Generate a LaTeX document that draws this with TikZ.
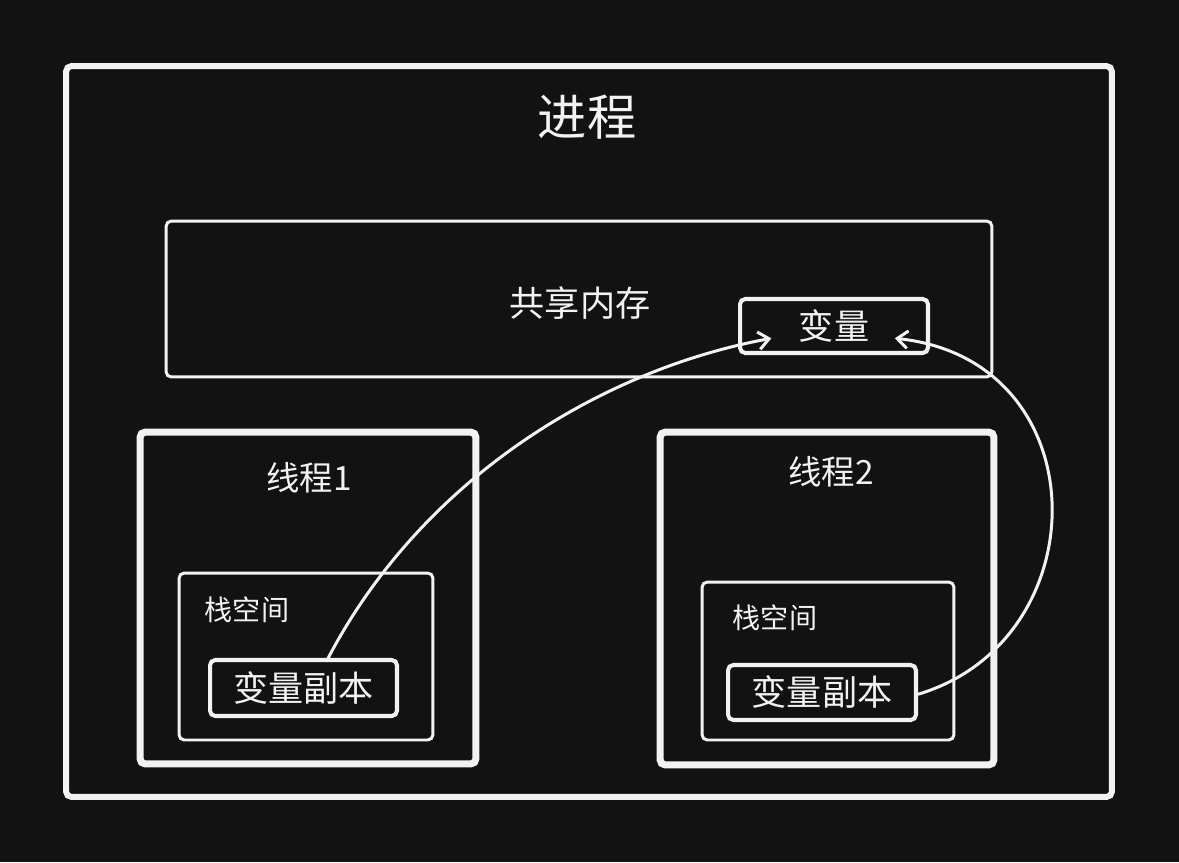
\documentclass[tikz,border=0pt]{standalone}
\usepackage{fontspec}
\setmainfont{Noto Sans CJK SC}
\usepackage{tikz}
\usetikzlibrary{arrows.meta}
\definecolor{bg}{HTML}{121212}
\definecolor{ink}{HTML}{F2F2F2}

\begin{document}
\begin{tikzpicture}[x=0.02cm, y=-0.02cm]
\tikzstyle{box}=[draw=ink, rectangle, rounded corners=3pt, inner sep=0pt]
\tikzstyle{label}=[text=ink, inner sep=0pt]
\tikzstyle{link}=[draw=ink, line width=1.7pt, -{Straight Barb[length=6pt, width=10pt, line width=1.7pt]}]
\fill[bg] (0,0) rectangle (1179,862);
\useasboundingbox (0,0) rectangle (1179,862);

% process
\node[box, line width=3.4pt, minimum width=20.92cm, minimum height=14.62cm] (proc) at (589,431.5) {};
\node[label, font=\fontsize{28}{30}\selectfont] (proct) at (587,117) {进程};

% shared memory
\node[box, line width=1.7pt, minimum width=16.52cm, minimum height=3.12cm] (shm) at (579,299) {};
\node[label, font=\fontsize{20}{22}\selectfont] (shmt) at (580,303) {共享内存};
\node[box, line width=2.3pt, minimum width=3.76cm, minimum height=1.08cm, text=ink, font=\fontsize{20}{22}\selectfont] (var) at (834,326) {变量};

% thread 1
\node[box, line width=4pt, minimum width=6.72cm, minimum height=6.64cm] (th1) at (308,598) {};
\node[label, font=\fontsize{19}{21}\selectfont] (th1t) at (309,478) {线程1};
\node[box, line width=1.7pt, minimum width=5.08cm, minimum height=3.34cm] (st1) at (306,656.5) {};
\node[label, font=\fontsize{16}{18}\selectfont] (st1t) at (247,610) {栈空间};
\node[box, line width=2.3pt, minimum width=3.74cm, minimum height=1.12cm, text=ink, font=\fontsize{20}{22}\selectfont] (cp1) at (303.5,688) {变量副本};

% thread 2
\node[box, line width=4pt, minimum width=6.68cm, minimum height=6.66cm] (th2) at (827,598.5) {};
\node[label, font=\fontsize{19}{21}\selectfont] (th2t) at (831,472) {线程2};
\node[box, line width=1.7pt, minimum width=5.04cm, minimum height=3.16cm] (st2) at (828,661) {};
\node[label, font=\fontsize{16}{18}\selectfont] (st2t) at (775,618) {栈空间};
\node[box, line width=2.3pt, minimum width=3.76cm, minimum height=1.1cm, text=ink, font=\fontsize{20}{22}\selectfont] (cp2) at (822,692.5) {变量副本};

% copies to variable
\draw[link] ([xshift=13pt, yshift=-2pt]cp1.north) .. controls (420,480) and (600,370) .. ([xshift=19pt, yshift=-7pt]var.west);
\draw[link] ([yshift=-1pt]cp2.east) .. controls (1100,640) and (1100,360) .. ([xshift=-20pt, yshift=-7pt]var.east);

\end{tikzpicture}
\end{document}
